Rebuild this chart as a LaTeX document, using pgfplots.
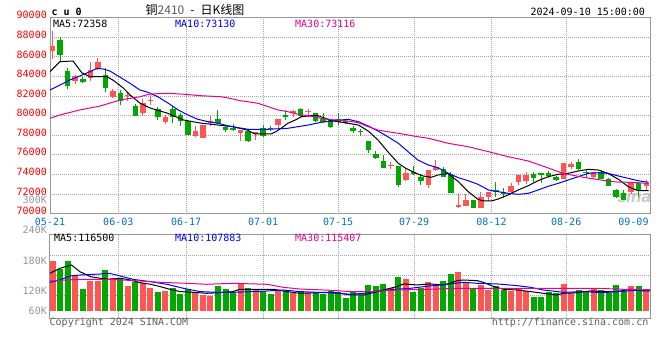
\documentclass[border=0pt]{standalone}
\usepackage{pgfplots}
\pgfplotsset{compat=1.18}
\usepackage{pgfplotstable}
\usepackage{fontspec}
\newfontfamily\mono{DejaVu Sans Mono}
\newfontfamily\cjk{Noto Sans CJK SC}
\newfontfamily\sinafont{Liberation Sans}
\definecolor{upred}{RGB}{255,85,85}
\definecolor{dngreen}{RGB}{0,168,0}
\definecolor{tickblue}{RGB}{0,112,204}
\definecolor{gridgray}{RGB}{165,165,165}
\definecolor{framegray}{RGB}{150,150,150}
\definecolor{labgray}{RGB}{150,150,150}
\definecolor{txtgray}{RGB}{95,95,95}
\newcommand{\sz}{\fontsize{10bp}{12bp}\selectfont}

% red (up) days: index open high low close volume(K)
\pgfplotstableread{
i o h l c v
0 86633 88612 85816 87143 195.2
3 83571 84184 83265 84020 155.2
5 83847 85449 83510 84694 141.6
6 84765 85888 84633 85480 141.6
8 81939 82755 81806 82551 149.7
10 81980 82418 81469 82080 128.0
12 80275 81735 80000 81296 134.5
13 81450 82110 81090 81550 122.6
15 79388 80071 79122 79898 114.4
19 77929 78980 77796 78439 110.0
20 77755 79051 77755 79051 102.7
21 79224 79969 78980 79490 100.8
25 78265 78541 77449 78541 134.5
27 78102 78367 77520 78367 118.2
30 79051 79663 78612 79663 116.3
32 80245 80582 79837 80510 109.0
34 80330 80684 79898 80430 109.0
45 74820 75275 74530 74920 121.7
47 73439 74633 73337 74122 146.2
50 72929 74459 72592 74459 138.1
51 74459 75480 74388 74735 129.9
54 70714 72143 70551 70857 165.3
55 70816 72010 70816 71398 138.1
57 70612 72245 70612 71673 129.9
58 71735 72245 71296 72245 116.3
61 72245 73163 72082 72827 113.6
62 73204 74020 72929 73949 118.2
63 73367 74225 73000 73949 113.6
68 73541 75200 73541 75143 132.6
69 74796 75306 74531 75071 107.3
72 73776 74286 73510 74224 120.9
77 72184 73102 71980 73102 127.2
79 72857 73439 72418 73102 118.2
}\redtab

% green (down) days
\pgfplotstableread{
i o h l c v
1 87755 88031 85551 86163 173.4
2 84592 84867 82694 83061 195.2
4 83776 83980 83337 83469 119.0
7 84122 84867 82418 82827 170.7
9 82316 82653 81061 81469 146.2
11 81020 81190 80000 80000 138.9
14 80653 80918 79561 79837 111.7
16 80684 81020 79225 79898 122.6
17 80071 80245 78980 79490 105.4
18 79459 79561 78031 78031 118.2
22 79663 80582 79224 79286 128.0
23 78878 79051 78367 78541 119.0
24 78776 79153 78439 78541 107.3
26 78439 78541 77347 77449 122.6
28 78714 79051 77857 77959 113.6
29 78750 78950 78470 78650 105.4
31 80071 80582 79561 79898 113.6
33 80684 80755 79898 80000 113.6
35 80245 80310 79388 79490 109.0
36 79622 80245 79224 79388 105.4
37 79622 79700 78776 78878 113.6
38 79622 80245 79051 79350 111.7
39 79490 79600 79100 79224 95.4
40 78714 78950 78265 78439 110.0
41 78440 78612 77930 78340 102.7
42 77418 77418 76224 76500 129.9
43 76092 76429 75551 75714 127.2
44 75408 75990 74633 74694 132.6
46 74867 74867 72700 72929 151.7
48 74286 74867 73939 74020 111.7
49 73776 74051 72929 73337 122.6
52 74530 74800 73714 73714 140.8
53 73950 74200 72143 72143 159.8
56 71398 71398 70612 70612 119.0
59 72420 73200 71735 72245 127.2
60 72245 72590 71633 71980 116.3
64 74051 74225 73204 73674 98.1
65 74122 74150 73130 73949 98.1
66 74122 74300 73600 73878 111.7
67 73776 73878 73300 73439 107.3
70 75245 75582 74459 74531 116.3
71 74286 74560 73714 74122 111.7
73 74224 74400 73510 73541 116.3
74 73541 73640 72857 72857 109.0
75 72418 72520 71570 71673 129.9
76 72082 72418 71398 71398 113.6
78 73102 73265 71673 72418 127.2
}\greentab

\pgfplotsset{
  sinaaxis/.style={
    scale only axis, anchor=south west, width=600bp,
    xmin=-0.36, xmax=79.5, enlargelimits=false,
    xtick={8.73,17.75,28.0,38.0,48.1,58.4,68.35},
    scaled y ticks=false, scaled x ticks=false,
    grid=major,
    grid style={gridgray, dash pattern=on 1bp off 1bp, line width=0.8bp},
    axis line style={framegray, line width=1bp},
    major tick length=0pt, tick style={draw=none},
    clip=true,
  },
  bodyup/.style={only marks, mark=*, mark size=0pt, mark options={draw=none, fill=none},
    error bars/.cd, y dir=plus, y explicit,
    error mark=none, error bar style={line width=#1, color=upred}},
  bodydn/.style={only marks, mark=*, mark size=0pt, mark options={draw=none, fill=none},
    error bars/.cd, y dir=plus, y explicit,
    error mark=none, error bar style={line width=#1, color=dngreen}},
}

\begin{document}
\begin{tikzpicture}
\useasboundingbox (0,0) rectangle (660bp,360bp);
\node[font=\sinafont\bfseries\itshape\fontsize{17bp}{18bp}\selectfont, text=black!22] at (634bp,164bp) {sina};

% ---------------- price panel ----------------
\begin{axis}[sinaaxis, at={(50bp,146.4bp)}, height=195.9bp,
  ymin=70000, ymax=90000,
  ytick={70000,72000,...,90000},
  yticklabels={70000,72000,74000,76000,78000,80000,82000,84000,86000,88000,90000},
  xticklabels={06-03,06-17,07-01,07-15,07-29,08-12,08-26},
  extra x ticks={-0.36,77.3}, extra x tick labels={05-21,09-09},
  extra x tick style={grid=none},
  yticklabel style={font=\mono\sz, text=red, inner sep=0pt, xshift=-3bp, yshift=2.5bp},
  xticklabel style={font=\mono\sz, text=tickblue, inner sep=0pt, yshift=-4bp},
]
% wicks
\addplot[bodyup=1bp] table[x=i, y=l, y error plus expr=\thisrow{h}-\thisrow{l}] {\redtab};
\addplot[bodydn=1bp] table[x=i, y=l, y error plus expr=\thisrow{h}-\thisrow{l}] {\greentab};
% bodies
\addplot[bodyup=5.5bp] table[x=i, y=o, y error plus expr=\thisrow{c}-\thisrow{o}] {\redtab};
\addplot[bodydn=5.5bp] table[x=i, y=c, y error plus expr=\thisrow{o}-\thisrow{c}] {\greentab};
% MA5
\addplot[black, line width=1bp] coordinates {
(-0.36,84490) (0.97,85510) (2.7,85580) (3.9,84360) (4.97,83980) (7.2,83980) (8.0,83640)
(9.4,82820) (10.3,82110) (11.6,81290) (12.96,80780) (15.2,80270) (17.4,79560) (19.6,79250)
(24.0,78870) (25.9,78530) (26.9,78130) (29.1,78130) (29.7,78360) (30.4,78710) (31.3,79220)
(32.3,79560) (33.1,79890) (34.3,79990) (35.3,79990) (36.3,79730) (37.1,79480) (38.0,79380)
(39.3,79220) (40.7,79040) (42.0,78430) (43.3,77510) (44.6,76320) (46.0,75130) (47.0,74620)
(48.2,74170) (49.3,73840) (50.4,73710) (51.3,73940) (52.6,74090) (54.0,73260) (55.3,72240)
(56.6,71460) (57.3,71290) (58.4,71290) (59.3,71490) (60.6,71900) (61.96,72410) (63.3,72850)
(64.6,73360) (65.95,73770) (67.3,74010) (68.6,74110) (69.95,74350) (71.3,74520) (72.6,74450)
(73.9,74110) (75.3,73500) (76.6,72750) (77.9,72340) (79.3,72340)};
% MA10
\addplot[blue, line width=1bp] coordinates {
(-0.36,82620) (0.97,83130) (2.3,83640) (3.6,84050) (4.97,84490) (5.9,84830) (6.7,84760)
(7.6,84560) (9.0,83910) (10.3,83300) (11.6,82620) (12.7,82380) (14.0,81930) (15.4,81260)
(16.7,80580) (18.0,80070) (19.3,79630) (20.7,79380) (22.0,79220) (23.3,78970) (24.7,78770)
(26.0,78610) (28.7,78610) (31.3,78710) (34.0,79040) (35.7,79320) (37.1,79450) (39.3,79630)
(40.7,79380) (42.0,78940) (43.3,78430) (44.6,77850) (46.0,77180) (47.3,76320) (48.6,75470)
(50.0,74960) (51.3,74680) (52.6,74140) (54.0,73660) (55.3,73360) (56.6,72990) (58.0,72410)
(59.3,72240) (60.6,72070) (62.0,71970) (63.3,72070) (64.6,72410) (65.95,72790) (67.3,73090)
(68.6,73430) (69.95,73770) (71.3,74110) (72.6,74170) (73.9,74110) (75.3,73840) (76.6,73600)
(77.9,73360) (79.3,73190)};
% MA30
\addplot[magenta, line width=1bp] coordinates {
(-0.36,79730) (0.97,80070) (3.6,80580) (6.3,80980) (9.0,81600) (11.6,81930) (12.96,82210)
(15.4,82280) (17.6,82180) (19.6,82040) (22.4,81930) (23.6,81770) (24.9,81530) (26.0,81420)
(27.3,81260) (28.7,80910) (30.0,80580) (31.3,80400) (32.7,80140) (34.0,79990) (35.7,79730)
(37.6,79560) (39.3,79450) (40.7,79280) (42.0,78870) (43.3,78530) (44.6,78360) (46.0,78200)
(47.3,78020) (48.6,77850) (50.0,77690) (51.3,77440) (52.6,77180) (55.3,76830) (58.0,76320)
(60.6,75810) (63.3,75370) (65.95,74660) (67.9,74110) (70.6,73710) (72.9,73430) (74.9,73230)
(76.9,73190) (79.3,73090)};
\end{axis}

% ---------------- volume panel ----------------
\begin{axis}[sinaaxis, at={(50bp,41.7bp)}, height=83.6bp,
  ymin=39.3, ymax=266.7,
  ytick={100.8,155.2,209.6}, yticklabels={,,},
  extra y ticks={60,114.4,196}, extra y tick labels={60K,120K,180K},
  extra y tick style={grid=none},
  xticklabels={,,,,,,},
  yticklabel style={font=\mono\sz, text=labgray, inner sep=0pt, xshift=-3bp},
]
\addplot[bodyup=6bp] table[x=i, y expr=60, y error plus expr=\thisrow{v}-60] {\redtab};
\addplot[bodydn=6bp] table[x=i, y expr=60, y error plus expr=\thisrow{v}-60] {\greentab};
% volume MA5
\addplot[black, line width=1bp] coordinates {
(-0.36,161.7) (0.97,175.3) (2.5,184.3) (3.6,166.3) (5.0,152.7) (6.3,148.2) (7.6,145.4)
(9.0,148.2) (10.3,143.6) (11.6,136.4) (13.0,131.9) (14.3,125.5) (15.6,118.2) (17.0,111.9)
(18.7,110) (20.5,107.3) (22.3,109.1) (24.0,111.9) (24.9,118.2) (29.4,118.2) (31.2,111.9)
(32.9,107.3) (36.9,110) (38.3,107.3) (39.6,102.7) (41.4,102.7) (42.7,109) (44.0,116.3)
(45.8,125.5) (46.7,132.7) (48.5,130) (50.2,132.7) (52.0,130) (52.9,134.5) (53.8,141.7)
(54.7,143.5) (56.5,141.7) (57.3,137.2) (58.7,125.5) (60.0,118.2) (61.8,116.3) (63.6,111.9)
(65.3,107.3) (67.1,102.7) (68.0,107.3) (69.8,109) (71.5,113.6) (73.3,111.9) (75.1,111.9)
(76.9,118.2) (78.6,113.6) (79.5,113.6)};
% volume MA10
\addplot[blue, line width=1bp] coordinates {
(-0.36,137.2) (0.97,143.5) (2.3,154.3) (3.6,157) (6.3,159.8) (7.6,161.6) (9.0,154.3)
(10.7,145.3) (13.0,138.9) (15.2,131.8) (17.4,120.9) (19.6,111.9) (21.8,110) (24.0,110)
(26.7,111.9) (28.5,113.6) (30.7,116.3) (32.9,111.9) (35.1,110) (36.9,109) (39.6,104.6)
(41.4,107.3) (43.2,113.6) (45.8,118.2) (47.6,120.9) (50.2,127.3) (52.9,132.7) (54.7,137.2)
(56.5,134.5) (59.2,132.7) (61.8,128.2) (63.6,123.6) (65.3,116.3) (68.0,110) (70.7,111.9)
(73.3,109) (75.1,111.9) (76.9,114.5) (79.5,116.3)};
% volume MA30
\addplot[magenta, line width=1bp] coordinates {
(-0.36,140.8) (1.9,143.5) (3.6,145.4) (7.6,145.4) (11.6,140.8) (14.3,137.2) (17.8,134.5)
(20.5,131.8) (24.0,134.5) (28.5,131.8) (30.7,123.6) (32.9,119) (36.9,115.5) (39.6,111.9)
(42.3,111.9) (45.8,116.3) (50.2,118.2) (53.8,120.9) (59.2,120.9) (63.6,120.9) (68.0,120.9)
(72.4,120.9) (76.0,118.2) (79.5,116.3)};
\end{axis}

% ---------------- texts ----------------
\node[anchor=west, font=\mono\bfseries\sz] at (48bp,348.5bp) {c u 0};
\node[font=\cjk\fontsize{12bp}{14bp}\selectfont] at (195bp,350bp) {铜{\color{black!65}2410}\enspace-\enspace 日K线图};
\node[anchor=east, font=\mono\sz] at (648.5bp,348.3bp) {2024-09-10 15:00:00};
\node[anchor=west, font=\mono\sz, text=black, inner sep=0pt] at (53bp,336.3bp) {MA5:72358};
\node[anchor=west, font=\mono\sz, text=blue, inner sep=0pt] at (175bp,336.3bp) {MA10:73130};
\node[anchor=west, font=\mono\sz, text=magenta, inner sep=0pt] at (295bp,336.3bp) {MA30:73116};
\node[anchor=west, font=\mono\sz, text=black, inner sep=0pt] at (54bp,122.2bp) {MA5:116500};
\node[anchor=west, font=\mono\sz, text=blue, inner sep=0pt] at (175bp,122.2bp) {MA10:107883};
\node[anchor=west, font=\mono\sz, text=magenta, inner sep=0pt] at (295bp,122.2bp) {MA30:115407};
\node[anchor=east, font=\mono\sz, text=labgray, inner sep=0pt] at (47bp,160bp) {300K};
\node[anchor=east, font=\mono\sz, text=labgray, inner sep=0pt] at (47bp,130bp) {240K};
\node[anchor=west, font=\mono\sz, text=txtgray, inner sep=0pt] at (49.5bp,37bp) {Copyright 2024 SINA.COM};
\node[anchor=east, font=\mono\sz, text=txtgray, inner sep=0pt] at (648.5bp,37bp) {http://finance.sina.com.cn};
\end{tikzpicture}
\end{document}
